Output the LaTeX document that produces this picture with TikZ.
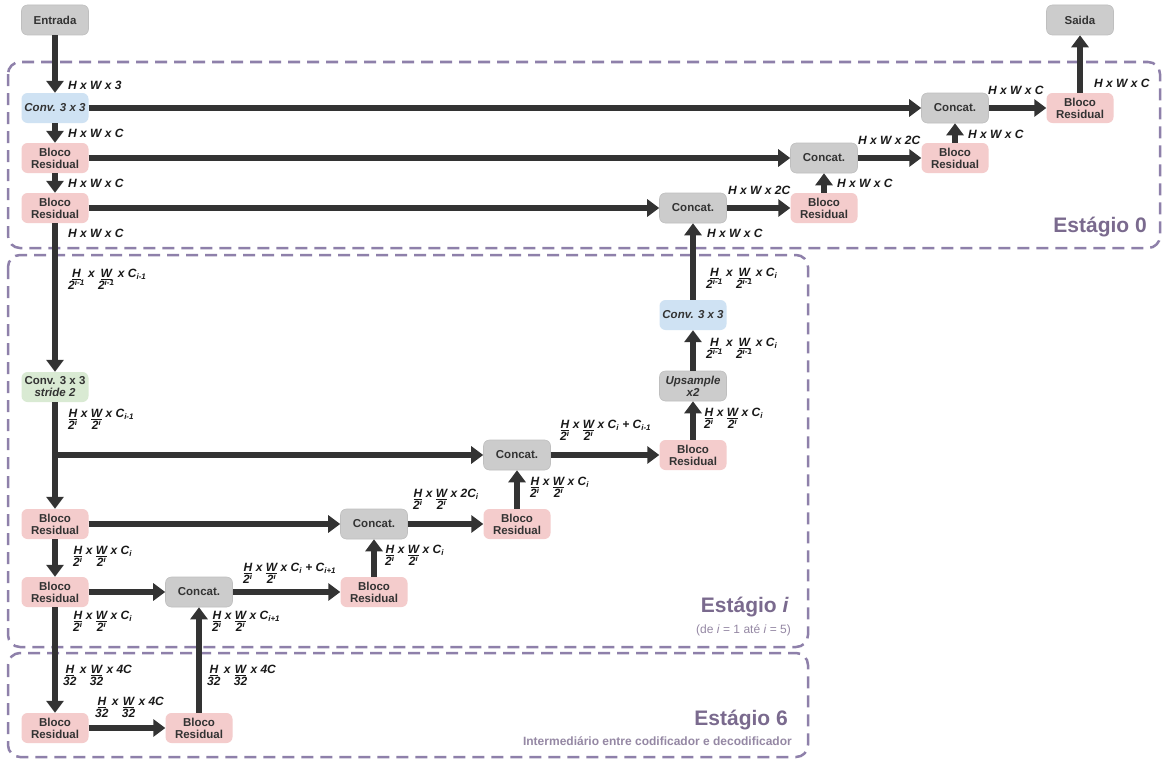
\documentclass[tikz,border=0pt]{standalone}
\usepackage{fontspec}
\setmainfont{Liberation Sans}
\usetikzlibrary{arrows.meta}

\definecolor{catfill}{HTML}{CCCCCC}
\definecolor{resfill}{HTML}{F4CCCC}
\definecolor{convfill}{HTML}{CFE2F3}
\definecolor{strfill}{HTML}{D9EAD3}
\definecolor{stgline}{HTML}{8E80AA}
\definecolor{stgtext}{HTML}{7A6A8E}
\definecolor{arr}{HTML}{333333}

% fraction with underlined numerator
\newcommand{\frc}[2]{\begin{tabular}[t]{@{}c@{}}\underline{#1}\\[-1.5pt]#2\end{tabular}}
\newcommand{\dimlbl}[2]{\frc{H}{#1} x \frc{W}{#1} x #2}
\newcommand{\pwi}{2\textsuperscript{i}}
\newcommand{\pwim}{2\textsuperscript{i-1}}

\begin{document}
\begin{tikzpicture}
  [x=1pt, y=-1pt,
    blk/.style={
      rounded corners=6pt, minimum width=67pt, minimum height=30pt,
      inner sep=1pt, align=center, text=arr,
      font=\bfseries\fontsize{11.5}{12}\selectfont
    },
    cat/.style={blk, fill=catfill, draw=black!25, line width=0.6pt},
    res/.style={blk, fill=resfill},
    conv/.style={blk, fill=convfill},
    strd/.style={blk, fill=strfill},
    flow/.style={-{Triangle[length=12pt,width=17pt]}, line width=5.5pt, draw=arr},
    lbl/.style={anchor=west, inner sep=0pt, text=black!90,
      font=\bfseries\itshape\fontsize{12}{13}\selectfont},
    stage/.style={rounded corners=12pt, draw=stgline, line width=2.5pt,
      dash pattern=on 12pt off 7pt},
    stgname/.style={anchor=base east, inner sep=0pt, text=stgtext,
      font=\bfseries\fontsize{21}{24}\selectfont},
    stgnote/.style={anchor=base east, inner sep=0pt, text=stgtext!80,
      font=\bfseries\fontsize{12}{13}\selectfont},
  ]
  \fill[white] (0,0) rectangle (1166,760);
  \useasboundingbox (0,0) rectangle (1166,760);

  % Stage frames
  \draw[stage] (8,62) rectangle (1160,248);
  \draw[stage] (8,255) rectangle (808,647);
  \draw[stage] (8,653) rectangle (808,757);

  \node[stgname] (st0) at (1147,232) {Estágio 0};
  \node[stgname] (sti) at (789,612) {Estágio \textit{i}};
  \node[stgnote] (stin) at (791,633) {\mdseries(de \textit{i} = 1 até \textit{i} = 5)};
  \node[stgname] (st6) at (788,725) {Estágio 6};
  \node[stgnote] (st6n) at (792,745) {Intermediário entre codificador e decodificador};

  % Stage 0
  \node[cat] (ent) at (55,20) {Entrada};
  \node[cat] (sai) at (1080,20) {Saida};
  \node[conv] (conv0) at (55,108) {\itshape Conv. 3 x 3};
  \node[res] (enc0a) at (55,158) {Bloco\\Residual};
  \node[res] (enc0b) at (55,208) {Bloco\\Residual};
  \node[cat] (cat0a) at (955,108) {Concat.};
  \node[cat] (cat0b) at (824,158) {Concat.};
  \node[cat] (cat0c) at (693,208) {Concat.};
  \node[res] (dec0a) at (1080,108) {Bloco\\Residual};
  \node[res] (dec0b) at (955,158) {Bloco\\Residual};
  \node[res] (dec0c) at (824,208) {Bloco\\Residual};

  % Stage i
  \node[strd] (convs) at (55,387) {Conv. 3 x 3\\\textit{stride 2}};
  \node[res] (enca) at (55,524) {Bloco\\Residual};
  \node[res] (encb) at (55,592) {Bloco\\Residual};
  \node[cat] (cata) at (517,455) {Concat.};
  \node[cat] (catb) at (374,524) {Concat.};
  \node[cat] (catc) at (199,592) {Concat.};
  \node[res] (deca) at (693,455) {Bloco\\Residual};
  \node[res] (decb) at (517,524) {Bloco\\Residual};
  \node[res] (decc) at (374,592) {Bloco\\Residual};
  \node[cat] (ups) at (693,386) {\textit{Upsample}\\\textit{x2}};
  \node[conv] (convu) at (693,315) {\itshape Conv. 3 x 3};
  \coordinate (split) at (55,455);

  % Stage 6
  \node[res] (mida) at (55,728) {Bloco\\Residual};
  \node[res] (midb) at (199,728) {Bloco\\Residual};

  % Encoder path
  \draw[flow] (ent) -- (conv0);
  \draw[flow] (conv0) -- (enc0a);
  \draw[flow] (enc0a) -- (enc0b);
  \draw[flow] (enc0b) -- (convs);
  \draw[flow] (convs) -- (enca);
  \draw[flow] (enca) -- (encb);
  \draw[flow] (encb) -- (mida);
  \draw[flow] (mida) -- (midb);

  % Skip connections
  \draw[flow] (conv0) -- (cat0a);
  \draw[flow] (enc0a) -- (cat0b);
  \draw[flow] (enc0b) -- (cat0c);
  \draw[flow] (split) -- (cata);
  \draw[flow] (enca) -- (catb);
  \draw[flow] (encb) -- (catc);

  % Decoder path
  \draw[flow] (midb) -- (catc);
  \draw[flow] (catc) -- (decc);
  \draw[flow] (decc) -- (catb);
  \draw[flow] (catb) -- (decb);
  \draw[flow] (decb) -- (cata);
  \draw[flow] (cata) -- (deca);
  \draw[flow] (deca) -- (ups);
  \draw[flow] (ups) -- (convu);
  \draw[flow] (convu) -- (cat0c);
  \draw[flow] (cat0c) -- (dec0c);
  \draw[flow] (dec0c) -- (cat0b);
  \draw[flow] (cat0b) -- (dec0b);
  \draw[flow] (dec0b) -- (cat0a);
  \draw[flow] (cat0a) -- (dec0a);
  \draw[flow] (dec0a) -- (sai);

  % Tensor sizes
  \node[lbl] (s1) at (68,85) {H x W x 3};
  \node[lbl] (s2) at (68,133) {H x W x C};
  \node[lbl] (s3) at (68,183) {H x W x C};
  \node[lbl] (s4) at (68,233) {H x W x C};
  \node[lbl] (s5) at (988,90) {H x W x C};
  \node[lbl] (s6) at (1094,83) {H x W x C};
  \node[lbl] (s7) at (968,134) {H x W x C};
  \node[lbl] (s8) at (858,140) {H x W x 2C};
  \node[lbl] (s9) at (837,183) {H x W x C};
  \node[lbl] (s10) at (728,190) {H x W x 2C};
  \node[lbl] (s11) at (707,233) {H x W x C};

  \node[lbl] (t1) at (68,281) {\dimlbl{\pwim}{C\textsubscript{i-1}}};
  \node[lbl] (t2) at (68,421) {\dimlbl{\pwi}{C\textsubscript{i-1}}};
  \node[lbl] (t3) at (706,280) {\dimlbl{\pwim}{C\textsubscript{i}}};
  \node[lbl] (t4) at (706,350) {\dimlbl{\pwim}{C\textsubscript{i}}};
  \node[lbl] (t5) at (704,420) {\dimlbl{\pwi}{C\textsubscript{i}}};
  \node[lbl] (t6) at (560,432) {\dimlbl{\pwi}{C\textsubscript{i} + C\textsubscript{i-1}}};
  \node[lbl] (t7) at (530,489) {\dimlbl{\pwi}{C\textsubscript{i}}};
  \node[lbl] (t8) at (413,501) {\dimlbl{\pwi}{2C\textsubscript{i}}};
  \node[lbl] (t9) at (385,557) {\dimlbl{\pwi}{C\textsubscript{i}}};
  \node[lbl] (t10) at (73,558) {\dimlbl{\pwi}{C\textsubscript{i}}};
  \node[lbl] (t11) at (243,575) {\dimlbl{\pwi}{C\textsubscript{i} + C\textsubscript{i+1}}};
  \node[lbl] (t12) at (73,623) {\dimlbl{\pwi}{C\textsubscript{i}}};
  \node[lbl] (t13) at (212,623) {\dimlbl{\pwi}{C\textsubscript{i+1}}};

  \node[lbl] (u1) at (63,677) {\dimlbl{32}{4C}};
  \node[lbl] (u2) at (207,677) {\dimlbl{32}{4C}};
  \node[lbl] (u3) at (95,709) {\dimlbl{32}{4C}};
\end{tikzpicture}
\end{document}
